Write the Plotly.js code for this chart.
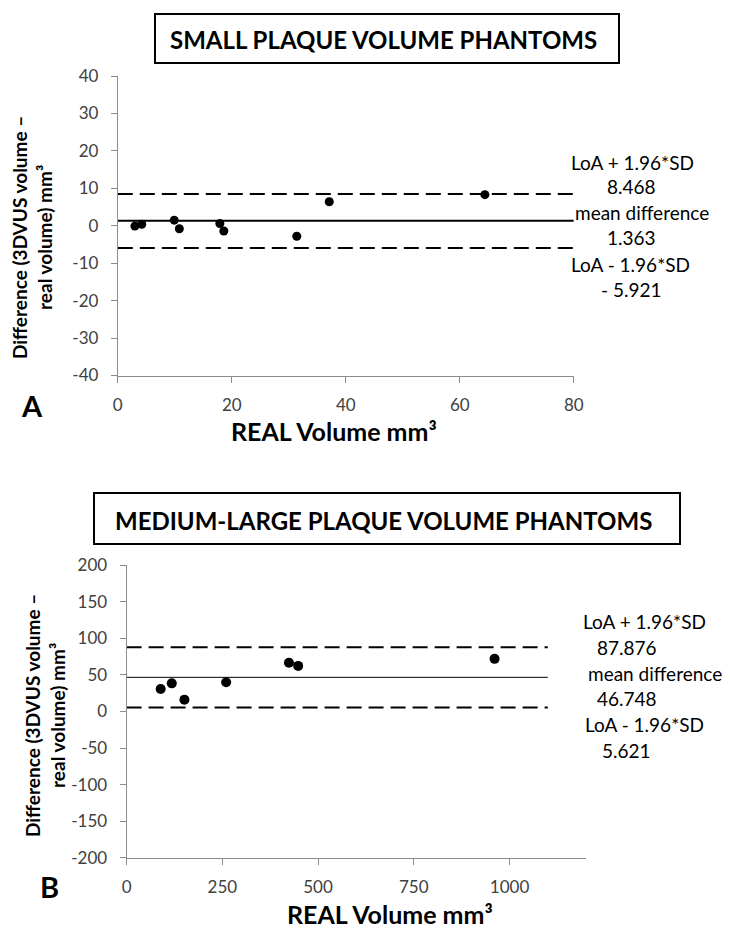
<!DOCTYPE html>
<html>
<head>
<meta charset="utf-8">
<script src="https://cdn.plot.ly/plotly-3.0.1.min.js"></script>
<style>html,body{margin:0;padding:0;background:#fff;}#chart{width:730px;height:930px;}</style>
</head>
<body>
<div id="chart"></div>
<script>
// ---- Data ----
const titleA = "SMALL PLAQUE VOLUME PHANTOMS";
const titleB = "MEDIUM-LARGE PLAQUE VOLUME PHANTOMS";
const xTitle = "REAL Volume mm³";
const yTitle = "Difference (3DVUS volume –<br>real volume) mm³";

// Panel A: small plaques
const realA = [3.0, 4.2, 9.9, 10.8, 17.9, 18.6, 31.4, 37.1, 64.4];
const diffA = [-0.1, 0.4, 1.5, -0.8, 0.6, -1.4, -2.8, 6.4, 8.3];
const loaUpperA = 8.468;
const meanDiffA = 1.363;
const loaLowerA = -5.921;
const lineSpanA = [0, 80];
const statLabelsA = ["LoA + 1.96*SD", "8.468", "mean difference", "1.363", "LoA - 1.96*SD", "- 5.921"];
const xTicksA = [0, 20, 40, 60, 80];
const yTicksA = [-40, -30, -20, -10, 0, 10, 20, 30, 40];
const yTickTextA = ["-40", "-30", "-20", "-10", "0", "10", "20", "30", "40"];

// Panel B: medium-large plaques
const realB = [89, 118, 151, 260, 424, 448, 961];
const diffB = [30.8, 38.5, 16.2, 39.9, 66.8, 62.4, 72.0];
const loaUpperB = 87.876;
const meanDiffB = 46.748;
const loaLowerB = 5.621;
const lineSpanB = [0, 1100];
const statLabelsB = ["LoA + 1.96*SD", "87.876", "mean difference", "46.748", "LoA - 1.96*SD", "5.621"];
const xTicksB = [0, 250, 500, 750, 1000];
const yTicksB = [-200, -150, -100, -50, 0, 50, 100, 150, 200];
const yTickTextB = ["-200", "-150", "-100", "-50", "0", "50", "100", "150", "200"];

// ---- Helpers ----
const W = 730, H = 930;
const px = v => v / W;
const py = v => 1 - v / H;
const FONT = "Lato, 'Open Sans', sans-serif";
const tickFont = {family: FONT, size: 17, color: "#404040"};
const axisColor = "#8c8c8c";

function hline(xs, yv, xa, ya, dash, width) {
  return {x: xs, y: [yv, yv], xaxis: xa, yaxis: ya, mode: "lines", hoverinfo: "skip",
          line: {color: "#000", width: width, dash: dash}};
}

const data = [
  hline(lineSpanA, loaUpperA, "x", "y", "15px,7px", 2),
  hline(lineSpanA, meanDiffA, "x", "y", "solid", 2),
  hline(lineSpanA, loaLowerA, "x", "y", "15px,7px", 2),
  {x: realA, y: diffA, xaxis: "x", yaxis: "y", mode: "markers", marker: {color: "#000", size: 9}},
  hline(lineSpanB, loaUpperB, "x2", "y2", "15px,7px", 2),
  hline(lineSpanB, meanDiffB, "x2", "y2", "solid", 1),
  hline(lineSpanB, loaLowerB, "x2", "y2", "15px,7px", 2),
  {x: realB, y: diffB, xaxis: "x2", yaxis: "y2", mode: "markers", marker: {color: "#000", size: 10}}
];

function xaxisCfg(domain, range, ticks, anchor) {
  return {domain: domain, range: range, tickvals: ticks, ticktext: ticks.map(String),
          showgrid: false, zeroline: false, showline: true, linecolor: axisColor, linewidth: 1,
          ticks: "outside", ticklen: 6, tickcolor: axisColor, tickfont: tickFont,
          ticklabelstandoff: 8, anchor: anchor, fixedrange: true};
}
function yaxisCfg(domain, range, ticks, text, anchor) {
  return {domain: domain, range: range, tickvals: ticks, ticktext: text,
          showgrid: false, zeroline: false, showline: true, linecolor: axisColor, linewidth: 1,
          ticks: "outside", ticklen: 6, tickcolor: axisColor, tickfont: tickFont,
          ticklabelstandoff: 9, anchor: anchor, fixedrange: true};
}

const annotations = [];
function ann(text, x, y, size, bold, extra) {
  annotations.push(Object.assign({
    text: bold ? "<b>" + text + "</b>" : text, xref: "paper", yref: "paper",
    x: px(x), y: py(y), xanchor: "center", yanchor: "middle", showarrow: false, borderpad: 0,
    font: {family: FONT, size: size, color: "#000"}
  }, extra || {}));
}

// Titles in boxes
ann(titleA, 384, 39, 24, true);
ann(titleB, 383, 520, 24, true);
// Panel letters
ann("A", 32, 405, 29, true);
ann("B", 49, 886, 29, true);
// X axis titles
ann(xTitle, 334, 431, 25, true);
ann(xTitle, 390, 914, 25, true);
// Y axis titles
ann(yTitle, 32, 238, 19, true, {textangle: -90});
ann(yTitle, 45, 716, 19, true, {textangle: -90});
// Stat labels
const statPosA = [[632, 162], [631, 187], [642, 213], [631, 238], [630, 265], [631, 290]];
const statPosB = [[644, 621], [627, 647], [655, 673], [627, 698], [644, 724], [626, 750]];
statLabelsA.forEach((t, i) => ann(t, statPosA[i][0], statPosA[i][1], 19, false));
statLabelsB.forEach((t, i) => ann(t, statPosB[i][0], statPosB[i][1], 19, false));

const shapes = [
  {type: "rect", xref: "paper", yref: "paper", x0: px(155), x1: px(619), y0: py(14), y1: py(63),
   line: {color: "#000", width: 2}},
  {type: "rect", xref: "paper", yref: "paper", x0: px(94), x1: px(680), y0: py(493), y1: py(544),
   line: {color: "#000", width: 2}}
];

const layout = {
  width: W, height: H, margin: {l: 0, r: 0, t: 0, b: 0},
  paper_bgcolor: "#fff", plot_bgcolor: "#fff", showlegend: false,
  xaxis: xaxisCfg([px(117.8), px(573.8)], [0, 80], xTicksA, "y"),
  yaxis: yaxisCfg([py(375.5), py(76)], [-40, 40], yTicksA, yTickTextA, "x"),
  xaxis2: xaxisCfg([px(126.6), px(586.1)], [0, 1200], xTicksB, "y2"),
  yaxis2: yaxisCfg([py(857.7), py(565.3)], [-200, 200], yTicksB, yTickTextB, "x2"),
  annotations: annotations,
  shapes: shapes
};

Plotly.newPlot("chart", data, layout, {displayModeBar: false, staticPlot: true});
</script>
</body>
</html>
